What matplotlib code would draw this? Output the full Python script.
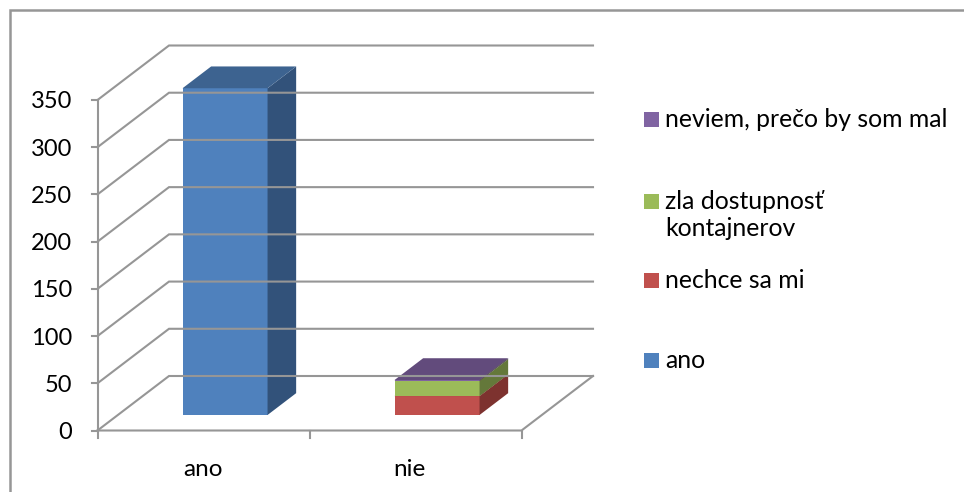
import matplotlib
matplotlib.use('Agg')
import matplotlib.pyplot as plt
from matplotlib.patches import Polygon, Rectangle

plt.rcParams['font.family'] = ['Lato', 'DejaVu Sans']

categories = ['ano', 'nie']
ticks = [0, 50, 100, 150, 200, 250, 300, 350]
# stacked values per category, bottom to top
ano_values = [346, 0, 0, 0]
nie_values = [0, 20, 16, 1]
legend_labels = ['neviem, prečo by som mal', 'zla dostupnosť\nkontajnerov', 'nechce sa mi', 'ano']

# front, side, top colours for each series
colors = [('#4f81bd', '#32527a', '#3d6390'),
          ('#c0504d', '#7d322f', '#94403c'),
          ('#9bbb59', '#64783a', '#7a9146'),
          ('#8064a2', '#534168', '#624b7c')]
legend_colors = ['#8064a2', '#9bbb59', '#c0504d', '#4f81bd']
grey = '#969696'


# oblique projection of (category, value, depth) to image pixels
def proj(c, v, d):
    return 97.5 + 212 * c + 71.5 * d, 430.5 - v * 330.5 / 350 - 54.5 * d


fig = plt.figure(figsize=(9.64, 4.92), dpi=100)
ax = fig.add_axes([0, 0, 1, 1])
ax.set_xlim(0, 964)
ax.set_ylim(492, 0)
ax.axis('off')

# only the top and left of the chart frame fall inside the image
ax.plot([10, 10, 964], [492, 10, 10], color=grey, lw=1.8, solid_joinstyle='miter')

# walls and gridlines
for t in ticks:
    x0, y0 = proj(0, t, 0)
    x1, y1 = proj(0, t, 1)
    x2, y2 = proj(2, t, 1)
    ax.plot([x0, x1, x2], [y0, y1, y2], color=grey, lw=1.5, solid_joinstyle='miter')
    ax.plot([x0 - 6, x0], [y0, y0], color=grey, lw=1.5)
    ax.text(72, y0 + 2, str(t), ha='right', va='center', fontsize=17, color='black')

x0, y0 = proj(0, 0, 0)
x3, y3 = proj(0, 350, 0)
ax.plot([x0, x3], [y0, y3], color=grey, lw=1.5)
x1, y1 = proj(2, 0, 0)
x2, y2 = proj(2, 0, 1)
ax.plot([x0, x1, x2], [y0, y1, y2], color=grey, lw=1.5)
for c in range(3):
    xt, yt = proj(c, 0, 0)
    ax.plot([xt, xt], [yt, yt + 7], color=grey, lw=1.5)

# bars
bar_left = 0.305
bar_width = 0.401
depth_a = 0.285
depth_b = 0.685
label_shift = [-1, -6]
for i, vals in enumerate([ano_values, nie_values]):
    base = 0
    l = i + bar_left
    r = l + bar_width
    for s, v in enumerate(vals):
        if v == 0:
            continue
        top = base + v
        front, side, cap = colors[s]
        ax.add_patch(Polygon([proj(l, base, depth_a), proj(r, base, depth_a),
                              proj(r, top, depth_a), proj(l, top, depth_a)], fc=front, ec='none'))
        ax.add_patch(Polygon([proj(r, base, depth_a), proj(r, base, depth_b),
                              proj(r, top, depth_b), proj(r, top, depth_a)], fc=side, ec='none'))
        ax.add_patch(Polygon([proj(l, top, depth_a), proj(r, top, depth_a),
                              proj(r, top, depth_b), proj(l, top, depth_b)], fc=cap, ec='none'))
        base = top
    xt, yt = proj(i, 0, 0)
    ax.text(xt + 106 + label_shift[i], 470, categories[i], ha='center', va='center', fontsize=17.5, color='black')

# legend
legend_y = [120, 202, 281, 361]
for label, col, y in zip(legend_labels, legend_colors, legend_y):
    ax.add_patch(Rectangle((644, y - 8), 15, 15, fc=col, ec='none'))
    ax.text(665, y - 12, label, ha='left', va='top', fontsize=17.8, color='black', linespacing=1.2)

fig.savefig('out.png', dpi=100)
